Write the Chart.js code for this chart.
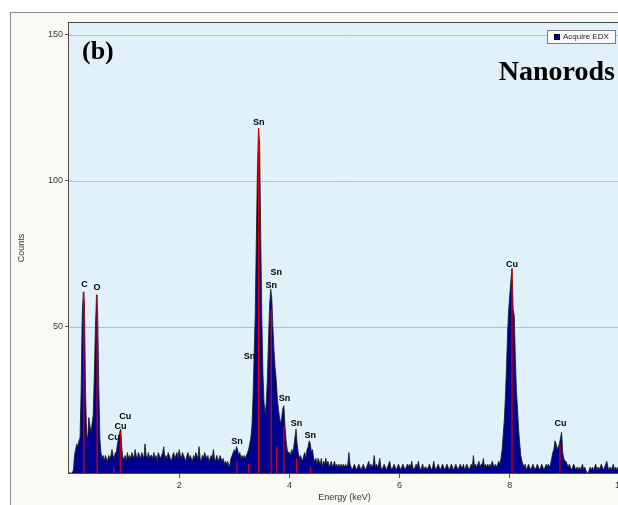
<!DOCTYPE html>
<html>
<head>
<meta charset="utf-8">
<script src="https://cdn.jsdelivr.net/npm/chart.js@4.4.1/dist/chart.umd.min.js"></script>
<style>
  html, body { margin: 0; padding: 0; background: #fff; width: 618px; height: 505px; overflow: hidden; }
  #panel { position: absolute; left: 10px; top: 12px; width: 700px; height: 600px; background: #fafaf4; border: 1px solid #8a8a8a; }
  #edx { position: absolute; left: 0; top: 0; }
</style>
</head>
<body>
<div id="panel"></div>
<canvas id="edx" width="630" height="505"></canvas>
<script>
// EDX spectrum, one value every 0.02 keV starting at 0.00 keV (rows of 0.5 keV)
const channelWidth = 0.02;
const counts = [
  0,0,0,0,1, 6,8,10,9,11, 12,28,54,62,58, 28,13,12,19,16, 14,17,20,34,50,      // 0.00
  61,55,30,12,7, 5,6,4,6,5, 4,6,5,6,8, 6,5,7,7,10, 12,14,15,8,5,              // 0.50
  5,6,4,7,5, 6,5,7,6,5, 8,6,5,7,6, 5,7,6,5,10, 6,5,7,5,6,                     // 1.00
  6,5,7,5,6, 4,7,6,5,6, 7,9,5,6,5, 7,6,5,4,6, 7,5,6,7,5,                      // 1.50
  8,6,5,7,6, 5,4,6,7,5, 6,5,4,6,5, 7,6,5,9,5, 4,6,5,7,6,                      // 2.00
  5,6,4,5,6, 5,8,5,4,6, 5,4,6,5,4, 5,3,4,3,4, 2,3,5,6,7,                      // 2.50
  8,7,9,8,6, 7,5,6,5,6, 5,6,7,8,10, 12,16,26,40,54, 80,104,118,112,80,        // 3.00
  52,34,24,20,24, 32,45,57,63,60, 50,42,36,32,26, 22,19,17,19,22, 23,16,11,8,7, // 3.50
  7,6,8,7,9, 12,15,10,7,5, 6,5,4,6,7, 5,8,9,11,10, 7,8,5,4,5,                 // 4.00
  3,5,4,3,5, 2,4,3,5,3, 4,2,3,4,2, 3,4,2,3,2, 3,2,3,2,3,                      // 4.50
  2,3,2,3,7, 3,2,1,2,3, 2,1,2,3,2, 1,2,3,2,1, 2,3,4,2,3,                      // 5.00
  2,3,6,2,3, 2,3,5,2,1, 2,3,2,1,2, 3,4,2,1,2, 3,2,1,2,3,                      // 5.50
  2,1,2,3,2, 1,2,3,2,3, 2,4,2,1,2, 3,2,4,2,1, 2,3,1,2,2,                      // 6.00
  1,2,3,2,1, 2,4,2,1,2, 3,2,1,2,3, 2,1,2,3,2, 1,2,3,2,1,                      // 6.50
  2,3,2,1,2, 3,2,2,3,1, 2,3,2,1,2, 3,2,6,2,3, 2,3,4,2,3,                      // 7.00
  3,5,2,3,2, 3,2,3,2,4, 3,2,3,2,3, 4,3,5,8,13, 18,26,36,48,56,                // 7.50
  61,66,70,56,54, 40,28,22,15,10, 6,4,3,2,3, 1,2,3,2,1, 2,3,2,1,2,            // 8.00
  3,2,1,2,3, 2,1,2,3,2, 3,2,3,5,7, 8,11,10,8,9, 10,12,14,7,5,                 // 8.50
  4,4,3,2,3, 2,1,2,3,2, 1,2,1,2,1, 2,3,1,2,1, 0,0,1,2,1,                      // 9.00
  2,1,2,3,1, 2,1,2,3,2, 1,2,3,4,2, 1,2,1,2,3, 1,2,1,2,1                       // 9.50
];

// red element markers (keV, height in counts)
const markerEnergy = [0.27, 0.51, 0.81, 0.93, 3.05, 3.26, 3.44, 3.67, 3.77, 3.90, 4.13, 4.38, 8.04, 8.91];
const markerTop    = [62, 61, 2, 14, 4, 3, 118, 56, 9, 16, 5, 2, 70, 10];

// peak labels (text, keV, counts)
const labelText   = ['C', 'O', 'Cu', 'Cu', 'Cu', 'Sn', 'Sn', 'Sn', 'Sn', 'Sn', 'Sn', 'Sn', 'Sn', 'Cu', 'Cu'];
const labelEnergy = [0.28, 0.51, 1.02, 0.935, 0.81, 3.445, 3.76, 3.67, 3.275, 3.91, 4.13, 4.38, 3.05, 8.04, 8.92];
const labelCount  = [64.5, 63.5, 19.5, 16, 12, 120, 68.5, 64, 40, 25.5, 17, 12.7, 10.7, 71.5, 16.8];

const xTicks = [2, 4, 6, 8, 10];
const yTicks = [50, 100, 150];

const spectrum = counts.map((c, i) => ({ x: i * channelWidth, y: c }));
const markers = [];
markerEnergy.forEach((e, i) => {
  markers.push({ x: e, y: 0 }, { x: e, y: markerTop[i] }, { x: e, y: null });
});

const tickFont = { family: 'Liberation Sans', size: 9 };

const decor = {
  id: 'decor',
  beforeDatasetsDraw(chart) {
    const { ctx, chartArea: a } = chart;
    ctx.save();
    ctx.fillStyle = '#e1f1fa';
    ctx.fillRect(a.left, a.top, a.right - a.left, a.bottom - a.top);
    // horizontal grid on top of background
    ctx.strokeStyle = '#8ecde6';
    ctx.lineWidth = 1;
    yTicks.forEach(v => {
      const y = Math.round(chart.scales.y.getPixelForValue(v)) + 0.5;
      ctx.beginPath(); ctx.moveTo(a.left, y); ctx.lineTo(a.right, y); ctx.stroke();
    });
    ctx.restore();
  },
  afterDraw(chart) {
    const { ctx, chartArea: a, scales: { x, y } } = chart;
    ctx.save();
    // plot frame
    ctx.strokeStyle = '#4a4a4a';
    ctx.lineWidth = 1;
    ctx.strokeRect(Math.round(a.left) - 0.5, Math.round(a.top) - 0.5, a.right - a.left + 1, a.bottom - a.top + 1);

    // peak labels
    ctx.fillStyle = '#000';
    ctx.font = 'bold 9px "Liberation Sans"';
    ctx.textAlign = 'center';
    ctx.textBaseline = 'middle';
    labelText.forEach((t, i) => {
      ctx.fillText(t, x.getPixelForValue(labelEnergy[i]), y.getPixelForValue(labelCount[i]));
    });

    // legend box
    const lx = a.right - 73, ly = a.top + 7;
    ctx.fillStyle = '#fbfbfb';
    ctx.fillRect(lx, ly, 68, 13);
    ctx.strokeStyle = '#7a7a7a';
    ctx.strokeRect(lx + 0.5, ly + 0.5, 68, 13);
    ctx.fillStyle = '#00008c';
    ctx.fillRect(lx + 7, ly + 4, 6, 6);
    ctx.strokeStyle = '#000';
    ctx.strokeRect(lx + 7.5, ly + 4.5, 5, 5);
    ctx.fillStyle = '#222';
    ctx.font = '8px "Liberation Sans"';
    ctx.textAlign = 'left';
    ctx.fillText('Acquire EDX', lx + 16, ly + 7);

    // panel letters
    ctx.fillStyle = '#000';
    ctx.textBaseline = 'alphabetic';
    ctx.font = 'bold 26px "Liberation Serif"';
    ctx.fillText('(b)', a.left + 13, 59);
    ctx.textAlign = 'right';
    ctx.font = 'bold 28px "Liberation Serif"';
    ctx.fillText('Nanorods', 615, 80);
    ctx.restore();
  }
};

const ctx = document.getElementById('edx').getContext('2d');
const chart = new Chart(ctx, {
  type: 'line',
  data: {
    datasets: [
      {
        label: 'markers',
        data: markers,
        borderColor: '#e00000',
        borderWidth: 1.2,
        pointRadius: 0,
        fill: false,
        spanGaps: false,
        order: 0
      },
      {
        label: 'Acquire EDX',
        data: spectrum,
        borderColor: 'rgba(30,30,30,0.85)',
        borderWidth: 1,
        backgroundColor: '#000090',
        fill: 'origin',
        pointRadius: 0,
        tension: 0,
        order: 1
      }
    ]
  },
  options: {
    responsive: false,
    animation: false,
    events: [],
    layout: { padding: { left: 0, top: 23, right: 10, bottom: 0 } },
    plugins: { legend: { display: false }, tooltip: { enabled: false } },
    scales: {
      x: {
        type: 'linear',
        min: 0,
        max: 10,
        afterBuildTicks: s => { s.ticks = xTicks.map(v => ({ value: v })); },
        afterFit: s => { s.height = 32; },
        ticks: { font: tickFont, color: '#333', padding: 2, maxRotation: 0 },
        grid: { drawOnChartArea: false, tickLength: 5, tickColor: '#555' },
        border: { display: false },
        title: { display: true, text: 'Energy (keV)', font: tickFont, color: '#333', padding: { top: 0, bottom: 2 } }
      },
      y: {
        min: 0,
        max: 154,
        afterBuildTicks: s => { s.ticks = yTicks.map(v => ({ value: v })); },
        afterFit: s => { s.width = 69; },
        ticks: { font: tickFont, color: '#333', padding: 2 },
        grid: { drawOnChartArea: false, tickLength: 4, tickColor: '#555' },
        border: { display: false },
        title: { display: true, text: 'Counts', font: tickFont, color: '#333', padding: { top: 16, bottom: 0 } }
      }
    }
  },
  plugins: [decor]
});
</script>
</body>
</html>
